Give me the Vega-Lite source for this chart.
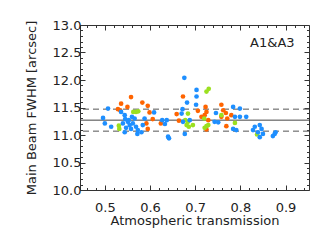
{
  "$schema": "https://vega.github.io/schema/vega-lite/v6.json",
  "width": 229,
  "height": 165,
  "autosize": {"type": "none"},
  "padding": {"left": 80, "top": 25, "right": 23, "bottom": 52},
  "background": "white",
  "config": {
    "view": {"stroke": "#333", "strokeWidth": 1},
    "font": "DejaVu Sans",
    "axis": {
      "domain": false, "grid": false,
      "labelFont": "DejaVu Sans", "labelFontSize": 13, "labelColor": "#222",
      "titleFont": "DejaVu Sans", "titleFontSize": 13, "titleFontWeight": "normal", "titleColor": "#222",
      "tickColor": "#333", "tickWidth": 1,
      "labelOverlap": false, "labelBound": false, "labelFlush": false
    }
  },
  "datasets": {
    "pts": [
      {"t": 0.496, "f": 11.31, "c": "b"}, {"t": 0.500, "f": 11.21, "c": "b"}, {"t": 0.507, "f": 11.48, "c": "b"},
      {"t": 0.514, "f": 11.15, "c": "b"}, {"t": 0.536, "f": 11.42, "c": "b"}, {"t": 0.544, "f": 11.36, "c": "b"},
      {"t": 0.540, "f": 11.21, "c": "b"}, {"t": 0.551, "f": 11.24, "c": "b"}, {"t": 0.555, "f": 11.18, "c": "b"},
      {"t": 0.562, "f": 11.21, "c": "b"}, {"t": 0.569, "f": 11.15, "c": "b"}, {"t": 0.558, "f": 11.11, "c": "b"},
      {"t": 0.573, "f": 11.09, "c": "b"}, {"t": 0.581, "f": 11.05, "c": "b"}, {"t": 0.572, "f": 11.02, "c": "b"},
      {"t": 0.544, "f": 11.05, "c": "b"}, {"t": 0.588, "f": 11.30, "c": "b"}, {"t": 0.584, "f": 11.18, "c": "b"},
      {"t": 0.547, "f": 11.13, "c": "b"}, {"t": 0.566, "f": 11.30, "c": "b"}, {"t": 0.609, "f": 11.41, "c": "b"},
      {"t": 0.545, "f": 11.29, "c": "b"}, {"t": 0.553, "f": 11.27, "c": "b"}, {"t": 0.560, "f": 11.33, "c": "b"},
      {"t": 0.627, "f": 11.27, "c": "b"}, {"t": 0.637, "f": 11.27, "c": "b"}, {"t": 0.633, "f": 11.20, "c": "b"},
      {"t": 0.640, "f": 10.97, "c": "b"}, {"t": 0.642, "f": 10.94, "c": "b"}, {"t": 0.688, "f": 11.27, "c": "b"},
      {"t": 0.673, "f": 11.24, "c": "b"}, {"t": 0.677, "f": 11.02, "c": "b"}, {"t": 0.672, "f": 11.47, "c": "b"},
      {"t": 0.670, "f": 11.39, "c": "b"}, {"t": 0.682, "f": 11.59, "c": "b"}, {"t": 0.702, "f": 11.55, "c": "b"},
      {"t": 0.703, "f": 11.70, "c": "b"}, {"t": 0.703, "f": 11.82, "c": "b"}, {"t": 0.676, "f": 12.04, "c": "b"},
      {"t": 0.746, "f": 11.40, "c": "b"}, {"t": 0.743, "f": 11.24, "c": "b"}, {"t": 0.751, "f": 11.23, "c": "b"},
      {"t": 0.784, "f": 11.51, "c": "b"}, {"t": 0.799, "f": 11.48, "c": "b"}, {"t": 0.788, "f": 11.33, "c": "b"},
      {"t": 0.799, "f": 11.33, "c": "b"}, {"t": 0.813, "f": 11.33, "c": "b"}, {"t": 0.784, "f": 11.11, "c": "b"},
      {"t": 0.791, "f": 11.09, "c": "b"}, {"t": 0.828, "f": 11.09, "c": "b"}, {"t": 0.832, "f": 11.15, "c": "b"},
      {"t": 0.843, "f": 11.18, "c": "b"}, {"t": 0.847, "f": 11.11, "c": "b"}, {"t": 0.839, "f": 11.05, "c": "b"},
      {"t": 0.850, "f": 11.02, "c": "b"}, {"t": 0.843, "f": 10.96, "c": "b"}, {"t": 0.876, "f": 11.02, "c": "b"},
      {"t": 0.872, "f": 10.98, "c": "b"}, {"t": 0.878, "f": 11.05, "c": "b"},
      {"t": 0.558, "f": 11.69, "c": "o"}, {"t": 0.536, "f": 11.57, "c": "o"}, {"t": 0.550, "f": 11.51, "c": "o"},
      {"t": 0.583, "f": 11.59, "c": "o"}, {"t": 0.595, "f": 11.53, "c": "o"}, {"t": 0.529, "f": 11.47, "c": "o"},
      {"t": 0.534, "f": 11.45, "c": "o"}, {"t": 0.599, "f": 11.41, "c": "o"}, {"t": 0.606, "f": 11.29, "c": "o"},
      {"t": 0.592, "f": 11.21, "c": "o"}, {"t": 0.595, "f": 11.11, "c": "o"}, {"t": 0.673, "f": 11.70, "c": "o"},
      {"t": 0.624, "f": 11.21, "c": "o"}, {"t": 0.659, "f": 11.38, "c": "o"}, {"t": 0.664, "f": 11.26, "c": "o"},
      {"t": 0.706, "f": 11.44, "c": "o"}, {"t": 0.723, "f": 11.51, "c": "o"}, {"t": 0.725, "f": 11.42, "c": "o"},
      {"t": 0.721, "f": 11.36, "c": "o"}, {"t": 0.729, "f": 11.27, "c": "o"}, {"t": 0.758, "f": 11.55, "c": "o"},
      {"t": 0.762, "f": 11.45, "c": "o"}, {"t": 0.768, "f": 11.40, "c": "o"}, {"t": 0.758, "f": 11.33, "c": "o"},
      {"t": 0.771, "f": 11.30, "c": "o"}, {"t": 0.769, "f": 11.16, "c": "o"}, {"t": 0.725, "f": 11.10, "c": "o"},
      {"t": 0.780, "f": 11.36, "c": "o"}, {"t": 0.714, "f": 11.33, "c": "o"},
      {"t": 0.563, "f": 11.42, "c": "g"}, {"t": 0.569, "f": 11.42, "c": "g"}, {"t": 0.574, "f": 11.43, "c": "g"},
      {"t": 0.531, "f": 11.17, "c": "g"}, {"t": 0.532, "f": 11.11, "c": "g"}, {"t": 0.684, "f": 11.39, "c": "g"},
      {"t": 0.725, "f": 11.79, "c": "g"}, {"t": 0.730, "f": 11.84, "c": "g"}, {"t": 0.678, "f": 11.27, "c": "g"},
      {"t": 0.684, "f": 11.24, "c": "g"}, {"t": 0.681, "f": 11.18, "c": "g"}, {"t": 0.695, "f": 11.18, "c": "g"},
      {"t": 0.686, "f": 11.15, "c": "g"}, {"t": 0.720, "f": 11.30, "c": "g"}, {"t": 0.725, "f": 11.16, "c": "g"},
      {"t": 0.721, "f": 11.13, "c": "g"}, {"t": 0.729, "f": 11.18, "c": "g"}, {"t": 0.758, "f": 11.36, "c": "g"},
      {"t": 0.788, "f": 11.22, "c": "g"}, {"t": 0.837, "f": 11.01, "c": "g"}
    ]
  },
  "layer": [
    {
      "data": {"values": [{"v": 11.47}, {"v": 11.07}]},
      "mark": {"type": "rule", "color": "#555", "strokeWidth": 1, "strokeDash": [6, 4]},
      "encoding": {
        "y": {"field": "v", "type": "quantitative", "scale": {"domain": [10, 13], "nice": false, "zero": false}, "axis": null}
      }
    },
    {
      "data": {"values": [{"v": 11.27}]},
      "mark": {"type": "rule", "color": "#444", "strokeWidth": 1},
      "encoding": {
        "y": {"field": "v", "type": "quantitative", "scale": {"domain": [10, 13], "nice": false, "zero": false}, "axis": null}
      }
    },
    {
      "data": {"name": "pts"},
      "mark": {"type": "circle", "size": 22, "opacity": 1},
      "encoding": {
        "x": {
          "field": "t", "type": "quantitative",
          "scale": {"domain": [0.445, 0.952], "nice": false, "zero": false},
          "axis": {
            "orient": "bottom", "title": "Atmospheric transmission",
            "values": [0.46, 0.48, 0.5, 0.52, 0.54, 0.56, 0.58, 0.6, 0.62, 0.64, 0.66, 0.68, 0.7, 0.72, 0.74, 0.76, 0.78, 0.8, 0.82, 0.84, 0.86, 0.88, 0.9, 0.92, 0.94],
            "tickSize": {"condition": {"test": "abs(datum.value*10-round(datum.value*10))<0.01", "value": -5}, "value": -2.5},
            "labelExpr": "abs(datum.value*10-round(datum.value*10))<0.01 ? format(datum.value,'.1f') : ''",
            "labelPadding": 16, "titlePadding": -2
          }
        },
        "y": {
          "field": "f", "type": "quantitative",
          "scale": {"domain": [10, 13], "nice": false, "zero": false},
          "axis": {
            "orient": "left", "title": "Main Beam FWHM [arcsec]",
            "values": [10, 10.1, 10.2, 10.3, 10.4, 10.5, 10.6, 10.7, 10.8, 10.9, 11, 11.1, 11.2, 11.3, 11.4, 11.5, 11.6, 11.7, 11.8, 11.9, 12, 12.1, 12.2, 12.3, 12.4, 12.5, 12.6, 12.7, 12.8, 12.9, 13],
            "tickSize": {"condition": {"test": "abs(datum.value*2-round(datum.value*2))<0.01", "value": -5}, "value": -2.5},
            "labelExpr": "abs(datum.value*2-round(datum.value*2))<0.01 ? format(datum.value,'.1f') : ''",
            "labelPadding": 4, "titlePadding": 14
          }
        },
        "color": {
          "field": "c", "type": "nominal",
          "scale": {"domain": ["b", "o", "g"], "range": ["#1E8FFF", "#FF6400", "#9BE020"]},
          "legend": null
        },
        "order": {"field": "c", "sort": "descending"}
      }
    },
    {
      "data": {"values": [{"label": "A1&A3"}]},
      "mark": {"type": "text", "align": "right", "baseline": "middle", "fontSize": 13, "font": "DejaVu Sans", "color": "#222"},
      "encoding": {
        "text": {"field": "label"},
        "x": {
          "datum": 0.92, "type": "quantitative",
          "scale": {"domain": [0.445, 0.952], "nice": false, "zero": false},
          "axis": {
            "orient": "top", "title": null, "labels": false,
            "values": [0.46, 0.48, 0.5, 0.52, 0.54, 0.56, 0.58, 0.6, 0.62, 0.64, 0.66, 0.68, 0.7, 0.72, 0.74, 0.76, 0.78, 0.8, 0.82, 0.84, 0.86, 0.88, 0.9, 0.92, 0.94],
            "tickSize": {"condition": {"test": "abs(datum.value*10-round(datum.value*10))<0.01", "value": -5}, "value": -2.5}
          }
        },
        "y": {
          "datum": 12.67, "type": "quantitative",
          "scale": {"domain": [10, 13], "nice": false, "zero": false},
          "axis": {
            "orient": "right", "title": null, "labels": false,
            "values": [10, 10.1, 10.2, 10.3, 10.4, 10.5, 10.6, 10.7, 10.8, 10.9, 11, 11.1, 11.2, 11.3, 11.4, 11.5, 11.6, 11.7, 11.8, 11.9, 12, 12.1, 12.2, 12.3, 12.4, 12.5, 12.6, 12.7, 12.8, 12.9, 13],
            "tickSize": {"condition": {"test": "abs(datum.value*2-round(datum.value*2))<0.01", "value": -5}, "value": -2.5}
          }
        }
      }
    }
  ],
  "resolve": {"axis": {"x": "independent", "y": "independent"}}
}
